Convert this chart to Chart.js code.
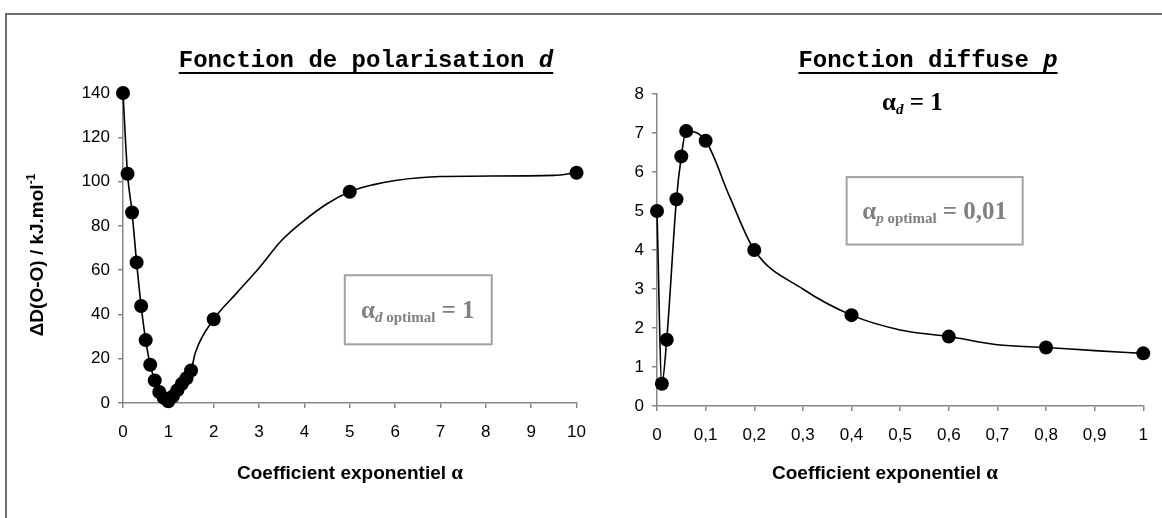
<!DOCTYPE html>
<html>
<head>
<meta charset="utf-8">
<script src="https://cdn.jsdelivr.net/npm/chart.js@4/dist/chart.umd.min.js"></script>
<style>
  html, body { margin: 0; padding: 0; background: #fff; }
  body { width: 1162px; height: 518px; position: relative; overflow: hidden; }
  #frame { position: absolute; left: 5px; top: 13px; width: 1170px; height: 520px;
           border-top: 2px solid #6e6e6e; border-left: 2px solid #6e6e6e; }
  #cD { position: absolute; left: 0; top: 0; }
  #cP { position: absolute; left: 600px; top: 0; }
</style>
</head>
<body>
<div id="frame"></div>
<canvas id="cD" width="600" height="518"></canvas>
<canvas id="cP" width="562" height="518"></canvas>
<script>
// ---- d polarisation function: exponent scan ----
const alphaD  = [0, 0.1, 0.2, 0.3, 0.4, 0.5, 0.6, 0.7, 0.8, 0.9, 1.0, 1.1, 1.2, 1.3, 1.4, 1.5, 2, 5, 10];
const deltaD  = [140, 103.5, 86, 63.5, 43.8, 28.4, 17.3, 10.2, 5.0, 2.3, 0.8, 3.0, 5.8, 8.7, 11.2, 14.7, 37.8, 95.4, 104];
// extra nodes of the smoothed trend line (no markers)
const curveDx = [1.6, 2.5, 3, 3.5, 4, 4.5, 5.5, 6, 7, 9.5];
const curveDy = [23, 49.5, 61, 73.5, 82.5, 90, 98.5, 100.5, 102.3, 102.8];
const ticksDx = [0, 1, 2, 3, 4, 5, 6, 7, 8, 9, 10];
const ticksDy = [0, 20, 40, 60, 80, 100, 120, 140];

// ---- diffuse p function: exponent scan (alpha_d = 1) ----
const alphaP  = [0, 0.01, 0.02, 0.04, 0.05, 0.06, 0.1, 0.2, 0.4, 0.6, 0.8, 1];
const deltaP  = [5.0, 0.57, 1.7, 5.3, 6.4, 7.05, 6.8, 4.0, 2.33, 1.78, 1.5, 1.35];
const curvePx = [0.15, 0.3, 0.5, 0.7, 0.9];
const curvePy = [5.35, 3.0, 1.95, 1.57, 1.42];
const ticksPx = [0, 0.1, 0.2, 0.3, 0.4, 0.5, 0.6, 0.7, 0.8, 0.9, 1];
const ticksPy = [0, 1, 2, 3, 4, 5, 6, 7, 8];

const AXIS = '#868686';
const SANS = '"Liberation Sans", Arial, sans-serif';
const SERIF = '"Liberation Serif", "Times New Roman", serif';
const MONO = '"Liberation Mono", "Courier New", monospace';

function pts(xs, ys) { return xs.map((x, i) => ({ x, y: ys[i] })); }
function merged(xa, ya, xb, yb) {
  return pts(xa, ya).concat(pts(xb, yb)).sort((a, b) => a.x - b.x);
}
const frNum = v => String(v).replace('.', ',');

// draw a sequence of differently styled text pieces, centred on x, baseline y
function drawRuns(ctx, runs, x, y, color) {
  let w = 0;
  for (const r of runs) { ctx.font = r.f; w += ctx.measureText(r.t).width; }
  let cx = x - w / 2;
  ctx.textAlign = 'left';
  ctx.textBaseline = 'alphabetic';
  for (const r of runs) {
    ctx.font = r.f;
    ctx.fillStyle = r.c || color;
    ctx.fillText(r.t, cx, y + (r.dy || 0));
    cx += ctx.measureText(r.t).width;
  }
  return { left: x - w / 2, width: w };
}

function underlinedTitle(ctx, runs, x, y) {
  const b = drawRuns(ctx, runs, x, y, '#000');
  ctx.fillStyle = '#000';
  ctx.fillRect(b.left, y + 5, b.width, 2);
}

function boxedNote(chart, box, runs, tx, ty) {
  const ctx = chart.ctx, sx = chart.scales.x, sy = chart.scales.y;
  const x0 = sx.getPixelForValue(box[0]), x1 = sx.getPixelForValue(box[1]);
  const y0 = sy.getPixelForValue(box[2]), y1 = sy.getPixelForValue(box[3]);
  ctx.fillStyle = '#fff';
  ctx.fillRect(x0, y0, x1 - x0, y1 - y0);
  ctx.strokeStyle = '#a2a2a2';
  ctx.lineWidth = 2;
  ctx.strokeRect(x0, y0, x1 - x0, y1 - y0);
  drawRuns(ctx, runs, sx.getPixelForValue(tx), sy.getPixelForValue(ty), '#808080');
}

function xTitle(ctx, x, y) {
  drawRuns(ctx, [
    { t: 'Coefficient exponentiel ', f: 'bold 19px ' + SANS },
    { t: 'α', f: 'bold 21px ' + SERIF }
  ], x, y, '#000');
}

function baseOptions(xMin, xMax, xTicks, yMin, yMax, yTicks, yWidth, xHeight, pad) {
  const tickFont = { family: SANS, size: 17 };
  return {
    responsive: false,
    animation: false,
    layout: { padding: pad },
    plugins: { legend: { display: false }, tooltip: { enabled: false } },
    scales: {
      x: {
        type: 'linear', min: xMin, max: xMax,
        afterBuildTicks: s => { s.ticks = xTicks.map(v => ({ value: v })); },
        afterFit: s => { s.height = xHeight; },
        grid: { drawOnChartArea: false, drawTicks: true, tickLength: 5, color: AXIS, lineWidth: 1.5 },
        border: { color: AXIS, width: 1.5 },
        ticks: { color: '#000', font: tickFont, padding: 14, maxRotation: 0, callback: v => frNum(v) }
      },
      y: {
        type: 'linear', min: yMin, max: yMax,
        afterBuildTicks: s => { s.ticks = yTicks.map(v => ({ value: v })); },
        afterFit: s => { s.width = yWidth; },
        grid: { drawOnChartArea: false, drawTicks: true, tickLength: 5, color: AXIS, lineWidth: 1.5 },
        border: { color: AXIS, width: 1.5 },
        ticks: { color: '#000', font: tickFont, padding: 8, callback: v => frNum(v) }
      }
    }
  };
}

function datasets(curve, marks) {
  return [
    { type: 'line', data: curve, borderColor: '#000', borderWidth: 1.6, pointRadius: 0,
      cubicInterpolationMode: 'monotone', fill: false, clip: false },
    { type: 'scatter', data: marks, showLine: false, pointRadius: 7, pointStyle: 'circle',
      backgroundColor: '#000', borderColor: '#000', borderWidth: 0, clip: false }
  ];
}

// ---------- left chart ----------
new Chart(document.getElementById('cD'), {
  type: 'scatter',
  data: { datasets: datasets(merged(alphaD, deltaD, curveDx, curveDy), pts(alphaD, deltaD)) },
  options: baseOptions(0, 10, ticksDx, 0, 140, ticksDy, 123, 115, { left: 0, right: 23, top: 93, bottom: 0 }),
  plugins: [{
    id: 'decorD',
    afterDraw(chart) {
      const ctx = chart.ctx;
      ctx.save();
      underlinedTitle(ctx, [
        { t: 'Fonction de polarisation ', f: 'bold 24px ' + MONO },
        { t: 'd', f: 'italic bold 24px ' + MONO }
      ], 366, 67);
      xTitle(ctx, 350, 479);
      ctx.translate(36, 255);
      ctx.rotate(-Math.PI / 2);
      drawRuns(ctx, [
        { t: 'ΔD(O-O) / kJ.mol', f: 'bold 19px ' + SANS },
        { t: '-1', f: 'bold 12px ' + SANS, dy: -8 }
      ], 0, 7, '#000');
      ctx.restore();
      ctx.save();
      boxedNote(chart, [4.89, 8.13, 57.7, 26.5], [
        { t: 'α', f: 'bold 25px ' + SERIF },
        { t: 'd', f: 'italic bold 15px ' + SERIF, dy: 4 },
        { t: ' optimal', f: 'bold 15px ' + SERIF, dy: 4 },
        { t: ' = 1', f: 'bold 25px ' + SERIF }
      ], 6.5, 38.3);
      ctx.restore();
    }
  }]
});

// ---------- right chart ----------
new Chart(document.getElementById('cP'), {
  type: 'scatter',
  data: { datasets: datasets(merged(alphaP, deltaP, curvePx, curvePy), pts(alphaP, deltaP)) },
  options: baseOptions(0, 1, ticksPx, 0, 8, ticksPy, 57, 112, { left: 0, right: 15, top: 94, bottom: 0 }),
  plugins: [{
    id: 'decorP',
    afterDraw(chart) {
      const ctx = chart.ctx, sx = chart.scales.x, sy = chart.scales.y;
      ctx.save();
      underlinedTitle(ctx, [
        { t: 'Fonction diffuse ', f: 'bold 24px ' + MONO },
        { t: 'p', f: 'italic bold 24px ' + MONO }
      ], 328, 67);
      xTitle(ctx, 285, 479);
      drawRuns(ctx, [
        { t: 'α', f: 'bold 25px ' + SERIF },
        { t: 'd', f: 'italic bold 15px ' + SERIF, dy: 4 },
        { t: ' = 1', f: 'bold 25px ' + SERIF }
      ], sx.getPixelForValue(0.525), sy.getPixelForValue(7.6), '#000');
      boxedNote(chart, [0.39, 0.752, 5.87, 4.14], [
        { t: 'α', f: 'bold 25px ' + SERIF },
        { t: 'p', f: 'italic bold 15px ' + SERIF, dy: 4 },
        { t: ' optimal', f: 'bold 15px ' + SERIF, dy: 4 },
        { t: ' = 0,01', f: 'bold 25px ' + SERIF }
      ], 0.571, 4.8);
      ctx.restore();
    }
  }]
});
</script>
</body>
</html>
